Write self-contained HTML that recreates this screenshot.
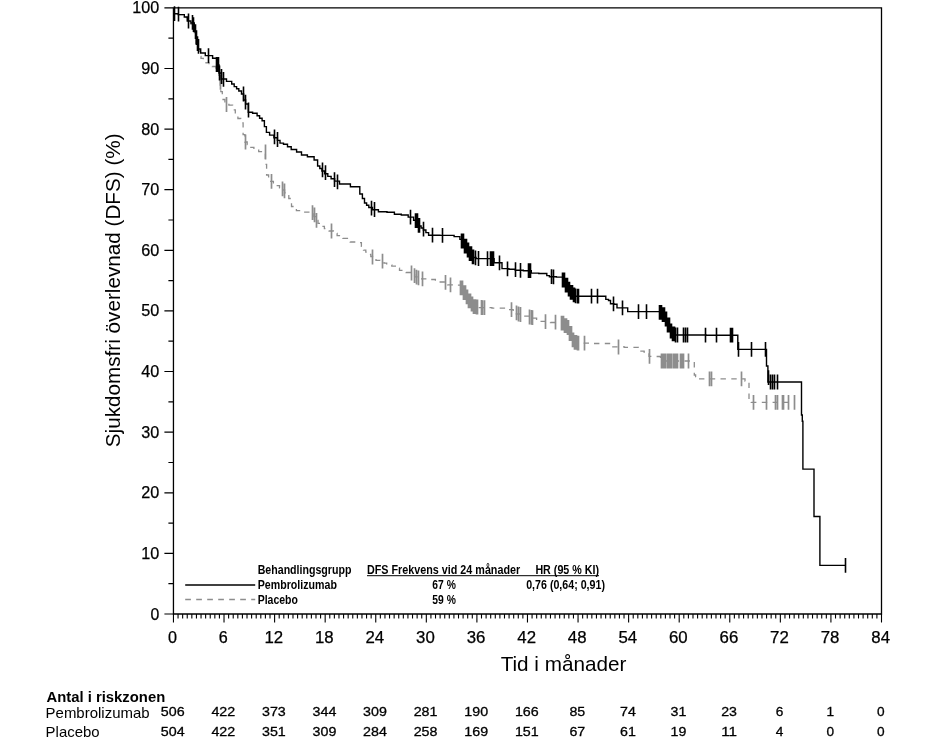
<!DOCTYPE html>
<html><head><meta charset="utf-8"><title>DFS Kaplan-Meier</title>
<style>
html,body{margin:0;padding:0;background:#fff;}
body{width:943px;height:751px;overflow:hidden;}
svg{display:block;will-change:transform;}
text{font-family:"Liberation Sans",sans-serif;fill:#000;}
.tk{font-size:16px;stroke:#000;stroke-width:0.25px;}
.rk{font-size:13.4px;stroke:#000;stroke-width:0.3px;}
.lg{font-size:12.4px;font-weight:bold;}
</style></head><body>
<svg width="943" height="751" viewBox="0 0 943 751">
<rect x="0" y="0" width="943" height="751" fill="#fff"/>
<g fill="none" stroke="#000" stroke-width="1.3">
<path d="M173.45,7.85H881.5V614.0H173.45Z"/>
<path d="M164.4,614.0H173.45M168.4,583.7H173.45M164.4,553.4H173.45M168.4,523.1H173.45M164.4,492.8H173.45M168.4,462.5H173.45M164.4,432.2H173.45M168.4,401.8H173.45M164.4,371.5H173.45M168.4,341.2H173.45M164.4,310.9H173.45M168.4,280.6H173.45M164.4,250.3H173.45M168.4,220.0H173.45M164.4,189.7H173.45M168.4,159.4H173.45M164.4,129.1H173.45M168.4,98.8H173.45M164.4,68.5H173.45M168.4,38.2H173.45M164.4,7.9H173.45" stroke-width="1.2"/>
<path d="M173.45,614.0V622.5M178.05,614.0V618.4M182.65,614.0V618.4M187.24,614.0V618.4M191.84,614.0V618.4M196.44,614.0V618.4M201.04,614.0V618.4M205.63,614.0V618.4M210.23,614.0V618.4M214.83,614.0V618.4M219.43,614.0V618.4M224.02,614.0V622.5M228.62,614.0V618.4M233.22,614.0V618.4M237.82,614.0V618.4M242.42,614.0V618.4M247.01,614.0V618.4M251.61,614.0V618.4M256.21,614.0V618.4M260.81,614.0V618.4M265.40,614.0V618.4M270.00,614.0V618.4M274.60,614.0V622.5M279.20,614.0V618.4M283.80,614.0V618.4M288.39,614.0V618.4M292.99,614.0V618.4M297.59,614.0V618.4M302.19,614.0V618.4M306.78,614.0V618.4M311.38,614.0V618.4M315.98,614.0V618.4M320.58,614.0V618.4M325.17,614.0V622.5M329.77,614.0V618.4M334.37,614.0V618.4M338.97,614.0V618.4M343.57,614.0V618.4M348.16,614.0V618.4M352.76,614.0V618.4M357.36,614.0V618.4M361.96,614.0V618.4M366.55,614.0V618.4M371.15,614.0V618.4M375.75,614.0V622.5M380.35,614.0V618.4M384.95,614.0V618.4M389.54,614.0V618.4M394.14,614.0V618.4M398.74,614.0V618.4M403.34,614.0V618.4M407.93,614.0V618.4M412.53,614.0V618.4M417.13,614.0V618.4M421.73,614.0V618.4M426.32,614.0V622.5M430.92,614.0V618.4M435.52,614.0V618.4M440.12,614.0V618.4M444.72,614.0V618.4M449.31,614.0V618.4M453.91,614.0V618.4M458.51,614.0V618.4M463.11,614.0V618.4M467.70,614.0V618.4M472.30,614.0V618.4M476.90,614.0V622.5M481.50,614.0V618.4M486.10,614.0V618.4M490.69,614.0V618.4M495.29,614.0V618.4M499.89,614.0V618.4M504.49,614.0V618.4M509.08,614.0V618.4M513.68,614.0V618.4M518.28,614.0V618.4M522.88,614.0V618.4M527.47,614.0V622.5M532.07,614.0V618.4M536.67,614.0V618.4M541.27,614.0V618.4M545.87,614.0V618.4M550.46,614.0V618.4M555.06,614.0V618.4M559.66,614.0V618.4M564.26,614.0V618.4M568.85,614.0V618.4M573.45,614.0V618.4M578.05,614.0V622.5M582.65,614.0V618.4M587.25,614.0V618.4M591.84,614.0V618.4M596.44,614.0V618.4M601.04,614.0V618.4M605.64,614.0V618.4M610.23,614.0V618.4M614.83,614.0V618.4M619.43,614.0V618.4M624.03,614.0V618.4M628.62,614.0V622.5M633.22,614.0V618.4M637.82,614.0V618.4M642.42,614.0V618.4M647.02,614.0V618.4M651.61,614.0V618.4M656.21,614.0V618.4M660.81,614.0V618.4M665.41,614.0V618.4M670.00,614.0V618.4M674.60,614.0V618.4M679.20,614.0V622.5M683.80,614.0V618.4M688.40,614.0V618.4M692.99,614.0V618.4M697.59,614.0V618.4M702.19,614.0V618.4M706.79,614.0V618.4M711.38,614.0V618.4M715.98,614.0V618.4M720.58,614.0V618.4M725.18,614.0V618.4M729.77,614.0V622.5M734.37,614.0V618.4M738.97,614.0V618.4M743.57,614.0V618.4M748.17,614.0V618.4M752.76,614.0V618.4M757.36,614.0V618.4M761.96,614.0V618.4M766.56,614.0V618.4M771.15,614.0V618.4M775.75,614.0V618.4M780.35,614.0V622.5M784.95,614.0V618.4M789.55,614.0V618.4M794.14,614.0V618.4M798.74,614.0V618.4M803.34,614.0V618.4M807.94,614.0V618.4M812.53,614.0V618.4M817.13,614.0V618.4M821.73,614.0V618.4M826.33,614.0V618.4M830.92,614.0V622.5M835.52,614.0V618.4M840.12,614.0V618.4M844.72,614.0V618.4M849.32,614.0V618.4M853.91,614.0V618.4M858.51,614.0V618.4M863.11,614.0V618.4M867.71,614.0V618.4M872.30,614.0V618.4M876.90,614.0V618.4M881.50,614.0V622.5" stroke-width="1.1"/>
</g>
<path d="M173.5,8.0 L173.8,8.0 L173.8,13.7 L174.0,13.7 L178.3,13.7 L178.3,14.6 L182.6,14.6 L184.3,14.6 L184.3,17.5 L186.0,17.5 L187.3,17.5 L187.3,21.5 L188.6,21.5 L190.9,21.5 L190.9,24.0 L193.3,24.0 L194.3,24.0 L194.3,32.6 L195.3,32.6 L196.3,32.6 L196.3,44.6 L197.3,44.6 L198.3,44.6 L198.3,50.0 L199.3,50.0 L199.7,50.0 L199.7,56.3 L200.0,56.3 L201.0,56.3 L201.0,58.3 L202.0,58.3 L203.3,58.3 L203.3,60.6 L206.0,60.6 L206.0,62.9 L207.3,62.9 L209.0,62.9 L209.0,64.7 L212.3,64.7 L212.3,66.5 L214.0,66.5 L216.0,66.5 L216.0,68.0 L218.0,68.0 L219.0,68.0 L219.0,77.0 L220.0,77.0 L220.2,77.0 L220.2,85.0 L220.3,85.0 L220.8,85.0 L220.8,91.6 L221.3,91.6 L222.3,91.6 L222.3,99.5 L223.3,99.5 L224.9,99.5 L224.9,104.5 L226.6,104.5 L228.9,104.5 L228.9,105.2 L231.3,105.2 L232.6,105.2 L232.6,109.8 L235.3,109.8 L235.3,114.3 L236.6,114.3 L237.9,114.3 L237.9,118.5 L240.7,118.5 L240.7,122.8 L242.0,122.8 L243.1,122.8 L243.1,134.6 L244.1,134.6 L244.9,134.6 L244.9,142.0 L245.8,142.0 L247.2,142.0 L247.2,144.7 L250.1,144.7 L250.1,147.3 L251.5,147.3 L253.9,147.3 L253.9,149.4 L258.7,149.4 L258.7,151.6 L261.1,151.6 L263.1,151.6 L263.1,152.0 L265.0,152.0 L265.4,152.0 L265.4,164.4 L265.8,164.4 L266.6,164.4 L266.6,175.0 L267.5,175.0 L268.6,175.0 L268.6,178.2 L270.7,178.2 L270.7,181.4 L271.8,181.4 L273.4,181.4 L273.4,183.6 L276.6,183.6 L276.6,185.7 L278.2,185.7 L279.5,185.7 L279.5,187.8 L282.2,187.8 L282.2,190.0 L283.5,190.0 L284.6,190.0 L284.6,192.8 L286.7,192.8 L286.7,195.7 L288.8,195.7 L288.8,198.5 L289.9,198.5 L291.5,198.5 L291.5,206.5 L293.2,206.5 L294.3,206.5 L294.3,208.6 L296.4,208.6 L296.4,210.7 L297.5,210.7 L302.8,210.7 L302.8,212.2 L308.1,212.2 L310.6,212.2 L310.6,212.8 L313.0,212.8 L313.9,212.8 L313.9,216.6 L315.7,216.6 L315.7,220.3 L316.6,220.3 L318.0,220.3 L318.0,223.3 L320.6,223.3 L320.6,226.3 L322.0,226.3 L324.4,226.3 L324.4,228.7 L329.1,228.7 L329.1,231.0 L331.5,231.0 L333.4,231.0 L333.4,233.3 L337.1,233.3 L337.1,235.6 L339.0,235.6 L342.8,235.6 L342.8,238.4 L346.5,238.4 L350.2,238.4 L350.2,242.0 L353.9,242.0 L357.1,242.0 L357.1,242.7 L360.3,242.7 L361.4,242.7 L361.4,246.4 L363.5,246.4 L363.5,250.1 L364.6,250.1 L365.8,250.1 L365.8,252.2 L368.3,252.2 L368.3,254.4 L370.8,254.4 L370.8,256.5 L372.0,256.5 L373.3,256.5 L373.3,258.4 L376.0,258.4 L376.0,260.4 L377.3,260.4 L380.0,260.4 L380.0,261.2 L382.7,261.2 L384.0,261.2 L384.0,263.1 L386.7,263.1 L386.7,265.0 L388.0,265.0 L391.8,265.0 L391.8,266.1 L395.5,266.1 L396.8,266.1 L396.8,268.2 L399.5,268.2 L399.5,270.4 L400.8,270.4 L406.1,270.4 L406.1,272.5 L411.4,272.5 L412.5,272.5 L412.5,274.6 L414.6,274.6 L414.6,276.8 L415.7,276.8 L418.9,276.8 L418.9,278.9 L422.1,278.9 L428.5,278.9 L428.5,279.5 L434.9,279.5 L435.4,279.5 L435.4,280.1 L436.0,280.1 L440.2,280.1 L440.2,282.0 L444.5,282.0 L447.7,282.0 L447.7,284.8 L450.9,284.8 L455.7,284.8 L455.7,285.2 L460.5,285.2 L462.1,285.2 L462.1,291.6 L463.7,291.6 L465.0,291.6 L465.0,295.9 L467.7,295.9 L467.7,300.1 L469.0,300.1 L470.3,300.1 L470.3,303.3 L473.0,303.3 L473.0,306.5 L474.3,306.5 L478.1,306.5 L478.1,307.6 L481.8,307.6 L491.9,307.6 L491.9,308.2 L502.0,308.2 L506.8,308.2 L506.8,309.7 L511.6,309.7 L513.2,309.7 L513.2,311.9 L516.4,311.9 L516.4,314.0 L518.0,314.0 L522.2,314.0 L522.2,316.1 L526.5,316.1 L530.2,316.1 L530.2,318.2 L534.0,318.2 L536.6,318.2 L536.6,321.4 L539.3,321.4 L550.5,321.4 L550.5,322.5 L561.7,322.5 L563.3,322.5 L563.3,325.7 L564.9,325.7 L566.7,325.7 L566.7,328.2 L568.5,328.2 L570.1,328.2 L570.1,338.8 L571.7,338.8 L572.8,338.8 L572.8,341.0 L574.9,341.0 L574.9,343.1 L576.0,343.1 L592.5,343.1 L592.5,343.5 L609.0,343.5 L610.6,343.5 L610.6,346.9 L612.2,346.9 L624.5,346.9 L624.5,347.3 L636.7,347.3 L638.3,347.3 L638.3,351.2 L639.9,351.2 L644.1,351.2 L644.1,352.0 L648.4,352.0 L649.0,352.0 L649.0,356.3 L649.5,356.3 L654.8,356.3 L654.8,356.5 L660.0,356.5 L660.5,356.5 L660.5,361.0 L661.0,361.0 L694.0,361.0 L694.3,361.0 L694.3,375.0 L694.6,375.0 L695.6,375.0 L695.6,376.9 L697.5,376.9 L697.5,378.9 L698.5,378.9 L720.0,378.9 L720.0,378.8 L741.5,378.8 L745.0,378.8 L745.0,381.0 L748.6,381.0 L749.0,381.0 L749.0,400.1 L749.4,400.1 L751.3,400.1 L751.3,402.3 L753.3,402.3 L794.8,402.3" fill="none" stroke="#8d8d8d" stroke-width="1.3" stroke-dasharray="5.4 5.4"/>
<path d="M220.5,74.9V89.7M226.5,97.1V111.9M245.5,134.6V149.4M265.5,144.6V159.4M271.5,174.0V188.8M282.5,181.4V196.2M284.5,183.4V198.2M312.5,205.3V220.1M314.5,207.5V222.3M316.5,212.9V227.7M331.5,223.6V238.4M372.5,249.6V264.4M382.5,253.8V268.6M411.5,265.6V280.4M414.5,268.3V283.1M416.5,269.8V284.6M418.5,270.4V285.2M422.5,271.5V286.3M445.5,275.0V289.8M450.5,277.4V292.2M481.5,300.1V314.9M482.5,300.2V315.0M484.5,300.3V315.1M511.5,302.3V317.1M516.5,305.4V320.2M518.5,306.6V321.4M520.5,307.1V321.9M529.5,309.6V324.4M531.5,310.0V324.8M532.5,310.3V325.1M545.5,314.3V329.1M555.5,314.8V329.6M584.5,335.8V350.6M618.5,339.6V354.4M649.5,348.9V363.7M688.5,353.6V368.4M709.5,371.5V386.3M711.5,371.5V386.3M741.5,371.4V386.2M753.5,394.9V409.7M766.5,394.9V409.7M775.5,394.9V409.7M777.5,394.9V409.7M782.5,394.9V409.7M783.5,394.9V409.7M788.5,394.9V409.7M794.5,394.9V409.7M460.5,280.4V295.2M461.5,280.4V295.2M462.5,280.4V295.2M463.5,285.3V300.1M464.5,285.3V300.1M465.5,285.3V300.1M466.5,289.5V304.3M467.5,289.5V304.3M468.5,293.4V308.2M469.5,293.4V308.2M470.5,293.4V308.2M471.5,296.6V311.4M472.5,296.6V311.4M473.5,299.2V314.0M474.5,299.2V314.0M475.5,299.2V314.0M476.5,299.6V314.4M477.5,299.6V314.4M561.5,315.7V330.5M562.5,315.7V330.5M563.5,315.7V330.5M564.5,318.3V333.1M565.5,318.3V333.1M566.5,318.3V333.1M567.5,320.1V334.9M568.5,320.1V334.9M569.5,326.1V340.9M570.5,326.1V340.9M571.5,326.1V340.9M572.5,332.4V347.2M573.5,332.4V347.2M574.5,335.0V349.8M575.5,335.0V349.8M576.5,335.0V349.8M577.5,335.7V350.5M578.5,335.7V350.5M661.5,353.6V368.4M662.5,353.6V368.4M663.5,353.6V368.4M664.5,353.6V368.4M665.5,353.6V368.4M667.5,353.6V368.4M668.5,353.6V368.4M669.5,353.6V368.4M670.5,353.6V368.4M671.5,353.6V368.4M673.5,353.6V368.4M674.5,353.6V368.4M675.5,353.6V368.4M676.5,353.6V368.4M677.5,353.6V368.4M680.5,353.6V368.4M681.5,353.6V368.4M682.5,353.6V368.4M683.5,353.6V368.4" fill="none" stroke="#8d8d8d" stroke-width="1.7"/>
<path d="M173.5,8.0 L173.8,8.0 L173.8,13.7 L174.0,13.7 L178.3,13.7 L178.3,14.6 L182.6,14.6 L184.3,14.6 L184.3,17.0 L186.0,17.0 L187.3,17.0 L187.3,21.0 L188.6,21.0 L190.9,21.0 L190.9,23.0 L193.3,23.0 L194.3,23.0 L194.3,31.6 L195.3,31.6 L196.3,31.6 L196.3,43.6 L197.3,43.6 L198.3,43.6 L198.3,49.0 L199.3,49.0 L200.7,49.0 L200.7,53.0 L202.0,53.0 L205.3,53.0 L205.3,55.6 L208.6,55.6 L212.6,55.6 L212.6,58.3 L216.6,58.3 L217.3,58.3 L217.3,65.0 L218.0,65.0 L219.0,65.0 L219.0,73.0 L220.0,73.0 L221.3,73.0 L221.3,79.0 L222.6,79.0 L226.5,79.0 L226.5,81.4 L230.4,81.4 L231.7,81.4 L231.7,84.0 L234.2,84.0 L234.2,86.6 L235.4,86.6 L236.6,86.6 L236.6,88.8 L238.8,88.8 L238.8,91.0 L240.0,91.0 L241.5,91.0 L241.5,94.0 L243.0,94.0 L243.6,94.0 L243.6,100.0 L244.1,100.0 L245.6,100.0 L245.6,104.0 L247.2,104.0 L248.3,104.0 L248.3,112.2 L249.4,112.2 L252.6,112.2 L252.6,113.3 L255.8,113.3 L257.1,113.3 L257.1,115.8 L259.6,115.8 L259.6,118.2 L262.1,118.2 L262.1,120.7 L263.3,120.7 L264.4,120.7 L264.4,126.6 L266.4,126.6 L266.4,132.4 L267.5,132.4 L269.6,132.4 L269.6,135.1 L273.9,135.1 L273.9,137.8 L276.0,137.8 L277.4,137.8 L277.4,140.4 L280.0,140.4 L280.0,143.1 L281.4,143.1 L283.5,143.1 L283.5,144.2 L285.6,144.2 L287.5,144.2 L287.5,146.8 L291.2,146.8 L291.2,149.5 L293.1,149.5 L296.6,149.5 L296.6,152.0 L300.0,152.0 L301.5,152.0 L301.5,155.0 L303.0,155.0 L307.4,155.0 L307.4,156.8 L311.8,156.8 L314.1,156.8 L314.1,160.0 L316.5,160.0 L317.6,160.0 L317.6,166.0 L318.7,166.0 L319.8,166.0 L319.8,168.5 L321.9,168.5 L321.9,171.0 L323.0,171.0 L324.6,171.0 L324.6,173.7 L327.8,173.7 L327.8,176.4 L329.4,176.4 L331.1,176.4 L331.1,178.8 L334.6,178.8 L334.6,181.1 L336.3,181.1 L339.5,181.1 L339.5,184.0 L342.6,184.0 L350.4,184.0 L350.4,186.7 L358.1,186.7 L359.8,186.7 L359.8,194.0 L361.4,194.0 L362.4,194.0 L362.4,198.5 L364.5,198.5 L364.5,203.0 L365.5,203.0 L366.6,203.0 L366.6,205.2 L368.8,205.2 L368.8,207.5 L369.9,207.5 L372.5,207.5 L372.5,209.7 L375.2,209.7 L378.4,209.7 L378.4,211.8 L381.6,211.8 L387.0,211.8 L387.0,212.2 L392.3,212.2 L394.4,212.2 L394.4,214.3 L396.5,214.3 L401.3,214.3 L401.3,215.0 L406.1,215.0 L408.2,215.0 L408.2,217.1 L410.4,217.1 L413.6,217.1 L413.6,220.3 L416.8,220.3 L418.4,220.3 L418.4,226.0 L420.0,226.0 L421.1,226.0 L421.1,228.0 L423.4,228.0 L423.4,230.0 L424.5,230.0 L425.9,230.0 L425.9,232.6 L428.6,232.6 L428.6,235.2 L430.0,235.2 L439.9,235.2 L439.9,235.4 L449.8,235.4 L454.1,235.4 L454.1,236.6 L458.3,236.6 L459.9,236.6 L459.9,239.4 L461.5,239.4 L463.1,239.4 L463.1,245.8 L464.7,245.8 L465.8,245.8 L465.8,249.0 L467.9,249.0 L467.9,252.2 L469.0,252.2 L470.1,252.2 L470.1,254.8 L472.2,254.8 L472.2,257.5 L473.3,257.5 L476.0,257.5 L476.0,258.6 L478.6,258.6 L493.5,258.6 L494.1,258.6 L494.1,262.8 L494.6,262.8 L501.0,262.8 L502.0,262.8 L502.0,268.6 L503.0,268.6 L508.9,268.6 L508.9,269.2 L514.8,269.2 L515.3,269.2 L515.3,270.3 L515.9,270.3 L523.3,270.3 L523.3,270.7 L530.8,270.7 L531.3,270.7 L531.3,273.1 L531.8,273.1 L538.8,273.1 L538.8,273.5 L545.7,273.5 L546.8,273.5 L546.8,275.6 L547.8,275.6 L549.4,275.6 L549.4,276.7 L551.0,276.7 L556.4,276.7 L556.4,277.1 L561.7,277.1 L563.3,277.1 L563.3,282.0 L564.9,282.0 L565.6,282.0 L565.6,285.6 L566.4,285.6 L567.8,285.6 L567.8,289.5 L569.1,289.5 L570.0,289.5 L570.0,291.8 L571.9,291.8 L571.9,294.1 L572.8,294.1 L574.4,294.1 L574.4,296.2 L576.0,296.2 L604.7,296.2 L605.8,296.2 L605.8,299.4 L606.9,299.4 L608.5,299.4 L608.5,300.5 L610.0,300.5 L610.5,300.5 L610.5,303.7 L611.1,303.7 L613.8,303.7 L613.8,304.3 L616.5,304.3 L617.0,304.3 L617.0,307.9 L617.5,307.9 L627.1,307.9 L627.7,307.9 L627.7,311.6 L628.2,311.6 L660.1,311.6 L661.2,311.6 L661.2,313.5 L663.3,313.5 L663.3,315.4 L664.4,315.4 L666.0,315.4 L666.0,321.8 L667.6,321.8 L669.2,321.8 L669.2,330.3 L670.8,330.3 L671.8,330.3 L671.8,332.6 L674.0,332.6 L674.0,335.0 L675.0,335.0 L706.1,335.0 L706.1,335.2 L737.3,335.2 L737.8,335.2 L737.8,349.4 L738.3,349.4 L766.0,349.4 L766.5,349.4 L766.5,366.0 L767.1,366.0 L767.9,366.0 L767.9,382.0 L768.6,382.0 L801.2,382.0 L801.5,382.0 L801.5,415.0 L801.8,415.0 L802.3,415.0 L802.3,421.3 L802.9,421.3 L802.9,469.1 L814.0,469.1 L814.0,516.5 L819.9,516.5 L819.9,565.4 L845.2,565.4" fill="none" stroke="#000" stroke-width="1.4" stroke-linejoin="miter"/>
<path d="M174.5,6.3V21.1M178.5,6.7V21.5M188.5,13.6V28.4M192.5,15.0V29.8M193.5,17.3V32.1M195.5,24.2V39.0M196.5,30.2V45.0M197.5,36.2V51.0M198.5,38.9V53.7M208.5,48.2V63.0M221.5,69.1V83.9M223.5,72.0V86.8M243.5,86.6V101.4M245.5,94.8V109.6M248.5,102.6V117.4M274.5,129.5V144.3M277.5,132.1V146.9M322.5,162.4V177.2M325.5,165.3V180.1M334.5,172.3V187.1M337.5,174.4V189.2M371.5,200.7V215.5M374.5,202.1V216.9M410.5,209.7V224.5M423.5,221.7V236.5M432.5,227.8V242.6M442.5,227.9V242.7M475.5,250.5V265.3M478.5,251.1V265.9M487.5,251.2V266.0M499.5,255.4V270.2M507.5,261.4V276.2M515.5,262.2V277.0M520.5,263.0V277.8M551.5,269.3V284.1M553.5,269.4V284.2M577.5,288.8V303.6M578.5,288.8V303.6M591.5,288.8V303.6M597.5,288.8V303.6M613.5,296.5V311.3M622.5,300.5V315.3M638.5,304.2V319.0M646.5,304.2V319.0M675.5,327.6V342.4M677.5,327.6V342.4M683.5,327.6V342.4M685.5,327.6V342.4M687.5,327.6V342.4M705.5,327.7V342.5M716.5,327.7V342.5M738.5,342.0V356.8M751.5,342.0V356.8M765.5,342.0V356.8M768.5,370.3V385.1M770.5,374.6V389.4M772.5,374.6V389.4M774.5,374.6V389.4M777.5,374.6V389.4M845.5,558.0V572.8M216.5,57.1V71.9M217.5,57.1V71.9M218.5,57.1V71.9M219.5,65.6V80.4M415.5,213.3V228.1M416.5,213.3V228.1M417.5,213.3V228.1M418.5,217.9V232.7M419.5,217.9V232.7M461.5,233.6V248.4M462.5,233.6V248.4M463.5,233.6V248.4M464.5,238.7V253.5M465.5,238.7V253.5M466.5,238.7V253.5M467.5,242.6V257.4M468.5,242.6V257.4M469.5,246.2V261.0M470.5,246.2V261.0M471.5,246.2V261.0M472.5,249.4V264.2M473.5,249.4V264.2M490.5,251.2V266.0M491.5,251.2V266.0M492.5,251.2V266.0M493.5,251.2V266.0M528.5,263.3V278.1M529.5,263.3V278.1M530.5,263.3V278.1M562.5,272.6V287.4M563.5,272.6V287.4M564.5,272.6V287.4M565.5,277.7V292.5M566.5,277.7V292.5M567.5,277.7V292.5M568.5,281.7V296.5M569.5,281.7V296.5M570.5,285.0V299.8M571.5,285.0V299.8M572.5,285.0V299.8M573.5,287.5V302.3M574.5,287.5V302.3M575.5,288.5V303.3M659.5,305.0V319.8M660.5,305.0V319.8M661.5,305.0V319.8M662.5,307.3V322.1M663.5,307.3V322.1M664.5,307.3V322.1M665.5,311.6V326.4M666.5,311.6V326.4M667.5,317.6V332.4M668.5,317.6V332.4M669.5,317.6V332.4M670.5,323.6V338.4M671.5,323.6V338.4M672.5,326.5V341.3M673.5,326.5V341.3M674.5,326.5V341.3M730.5,327.8V342.6M731.5,327.8V342.6M732.5,327.8V342.6" fill="none" stroke="#000" stroke-width="1.6"/>
<text class="tk" x="150.4" y="619.5" textLength="8.8" lengthAdjust="spacingAndGlyphs">0</text>
<text class="tk" x="141.2" y="558.9" textLength="18.0" lengthAdjust="spacingAndGlyphs">10</text>
<text class="tk" x="141.2" y="498.3" textLength="18.0" lengthAdjust="spacingAndGlyphs">20</text>
<text class="tk" x="141.2" y="437.7" textLength="18.0" lengthAdjust="spacingAndGlyphs">30</text>
<text class="tk" x="141.2" y="377.0" textLength="18.0" lengthAdjust="spacingAndGlyphs">40</text>
<text class="tk" x="141.2" y="316.4" textLength="18.0" lengthAdjust="spacingAndGlyphs">50</text>
<text class="tk" x="141.2" y="255.8" textLength="18.0" lengthAdjust="spacingAndGlyphs">60</text>
<text class="tk" x="141.2" y="195.2" textLength="18.0" lengthAdjust="spacingAndGlyphs">70</text>
<text class="tk" x="141.2" y="134.6" textLength="18.0" lengthAdjust="spacingAndGlyphs">80</text>
<text class="tk" x="141.2" y="74.0" textLength="18.0" lengthAdjust="spacingAndGlyphs">90</text>
<text class="tk" x="132.3" y="13.4" textLength="26.9" lengthAdjust="spacingAndGlyphs">100</text>
<text class="tk" x="168.1" y="643.1" textLength="9.0" lengthAdjust="spacingAndGlyphs">0</text>
<text class="tk" x="218.7" y="643.1" textLength="9.0" lengthAdjust="spacingAndGlyphs">6</text>
<text class="tk" x="264.4" y="643.1" textLength="18.7" lengthAdjust="spacingAndGlyphs">12</text>
<text class="tk" x="315.0" y="643.1" textLength="18.7" lengthAdjust="spacingAndGlyphs">18</text>
<text class="tk" x="365.5" y="643.1" textLength="18.7" lengthAdjust="spacingAndGlyphs">24</text>
<text class="tk" x="416.1" y="643.1" textLength="18.7" lengthAdjust="spacingAndGlyphs">30</text>
<text class="tk" x="466.7" y="643.1" textLength="18.7" lengthAdjust="spacingAndGlyphs">36</text>
<text class="tk" x="517.3" y="643.1" textLength="18.7" lengthAdjust="spacingAndGlyphs">42</text>
<text class="tk" x="567.8" y="643.1" textLength="18.7" lengthAdjust="spacingAndGlyphs">48</text>
<text class="tk" x="618.4" y="643.1" textLength="18.7" lengthAdjust="spacingAndGlyphs">54</text>
<text class="tk" x="669.0" y="643.1" textLength="18.7" lengthAdjust="spacingAndGlyphs">60</text>
<text class="tk" x="719.6" y="643.1" textLength="18.7" lengthAdjust="spacingAndGlyphs">66</text>
<text class="tk" x="770.1" y="643.1" textLength="18.7" lengthAdjust="spacingAndGlyphs">72</text>
<text class="tk" x="820.7" y="643.1" textLength="18.7" lengthAdjust="spacingAndGlyphs">78</text>
<text class="tk" x="871.3" y="643.1" textLength="18.7" lengthAdjust="spacingAndGlyphs">84</text>
<text x="563.5" y="670.9" font-size="20.7px" text-anchor="middle">Tid i månader</text>
<text transform="translate(119.8,290.3) rotate(-90)" font-size="20.7px" text-anchor="middle">Sjukdomsfri överlevnad (DFS) (%)</text>
<path d="M185.2,585H255.2" stroke="#000" stroke-width="1.4" fill="none"/>
<path d="M185.2,599.5H255.2" stroke="#8d8d8d" stroke-width="1.3" stroke-dasharray="5.7 5.3" fill="none"/>
<text class="lg" x="257.7" y="574.1" textLength="93.7" lengthAdjust="spacingAndGlyphs">Behandlingsgrupp</text>
<text class="lg" x="367" y="574.1" textLength="153.2" lengthAdjust="spacingAndGlyphs">DFS Frekvens vid 24 månader</text>
<text class="lg" x="535.4" y="574.1" textLength="63.6" lengthAdjust="spacingAndGlyphs">HR (95 % KI)</text>
<path d="M367,575.7H599" stroke="#000" stroke-width="1" fill="none"/>
<text class="lg" x="257.7" y="588.9" textLength="79.2" lengthAdjust="spacingAndGlyphs">Pembrolizumab</text>
<text class="lg" x="432.3" y="588.9" textLength="23.5" lengthAdjust="spacingAndGlyphs">67 %</text>
<text class="lg" x="526.2" y="588.9" textLength="78.8" lengthAdjust="spacingAndGlyphs">0,76 (0,64; 0,91)</text>
<text class="lg" x="257.7" y="603.8" textLength="40.2" lengthAdjust="spacingAndGlyphs">Placebo</text>
<text class="lg" x="432.3" y="603.8" textLength="23.5" lengthAdjust="spacingAndGlyphs">59 %</text>
<text x="46.5" y="701.6" font-size="14.3px" font-weight="bold" textLength="118.7" lengthAdjust="spacingAndGlyphs">Antal i riskzonen</text>
<text x="45.6" y="718.3" font-size="14.3px" textLength="104" lengthAdjust="spacingAndGlyphs">Pembrolizumab</text>
<text x="45.6" y="736.6" font-size="14.3px" textLength="54" lengthAdjust="spacingAndGlyphs">Placebo</text>
<text class="rk" x="160.8" y="716.0" textLength="23.8" lengthAdjust="spacingAndGlyphs">506</text>
<text class="rk" x="211.4" y="716.0" textLength="23.8" lengthAdjust="spacingAndGlyphs">422</text>
<text class="rk" x="262.0" y="716.0" textLength="23.8" lengthAdjust="spacingAndGlyphs">373</text>
<text class="rk" x="312.6" y="716.0" textLength="23.8" lengthAdjust="spacingAndGlyphs">344</text>
<text class="rk" x="363.1" y="716.0" textLength="23.8" lengthAdjust="spacingAndGlyphs">309</text>
<text class="rk" x="413.7" y="716.0" textLength="23.8" lengthAdjust="spacingAndGlyphs">281</text>
<text class="rk" x="464.3" y="716.0" textLength="23.8" lengthAdjust="spacingAndGlyphs">190</text>
<text class="rk" x="514.9" y="716.0" textLength="23.8" lengthAdjust="spacingAndGlyphs">166</text>
<text class="rk" x="569.4" y="716.0" textLength="15.8" lengthAdjust="spacingAndGlyphs">85</text>
<text class="rk" x="620.0" y="716.0" textLength="15.8" lengthAdjust="spacingAndGlyphs">74</text>
<text class="rk" x="670.6" y="716.0" textLength="15.8" lengthAdjust="spacingAndGlyphs">31</text>
<text class="rk" x="721.2" y="716.0" textLength="15.8" lengthAdjust="spacingAndGlyphs">23</text>
<text class="rk" x="775.8" y="716.0" textLength="7.6" lengthAdjust="spacingAndGlyphs">6</text>
<text class="rk" x="826.4" y="716.0" textLength="7.6" lengthAdjust="spacingAndGlyphs">1</text>
<text class="rk" x="877.0" y="716.0" textLength="7.6" lengthAdjust="spacingAndGlyphs">0</text>
<text class="rk" x="160.8" y="736.3" textLength="23.8" lengthAdjust="spacingAndGlyphs">504</text>
<text class="rk" x="211.4" y="736.3" textLength="23.8" lengthAdjust="spacingAndGlyphs">422</text>
<text class="rk" x="262.0" y="736.3" textLength="23.8" lengthAdjust="spacingAndGlyphs">351</text>
<text class="rk" x="312.6" y="736.3" textLength="23.8" lengthAdjust="spacingAndGlyphs">309</text>
<text class="rk" x="363.1" y="736.3" textLength="23.8" lengthAdjust="spacingAndGlyphs">284</text>
<text class="rk" x="413.7" y="736.3" textLength="23.8" lengthAdjust="spacingAndGlyphs">258</text>
<text class="rk" x="464.3" y="736.3" textLength="23.8" lengthAdjust="spacingAndGlyphs">169</text>
<text class="rk" x="514.9" y="736.3" textLength="23.8" lengthAdjust="spacingAndGlyphs">151</text>
<text class="rk" x="569.4" y="736.3" textLength="15.8" lengthAdjust="spacingAndGlyphs">67</text>
<text class="rk" x="620.0" y="736.3" textLength="15.8" lengthAdjust="spacingAndGlyphs">61</text>
<text class="rk" x="670.6" y="736.3" textLength="15.8" lengthAdjust="spacingAndGlyphs">19</text>
<text class="rk" x="721.2" y="736.3" textLength="15.8" lengthAdjust="spacingAndGlyphs">11</text>
<text class="rk" x="775.8" y="736.3" textLength="7.6" lengthAdjust="spacingAndGlyphs">4</text>
<text class="rk" x="826.4" y="736.3" textLength="7.6" lengthAdjust="spacingAndGlyphs">0</text>
<text class="rk" x="877.0" y="736.3" textLength="7.6" lengthAdjust="spacingAndGlyphs">0</text>
</svg></body></html>
